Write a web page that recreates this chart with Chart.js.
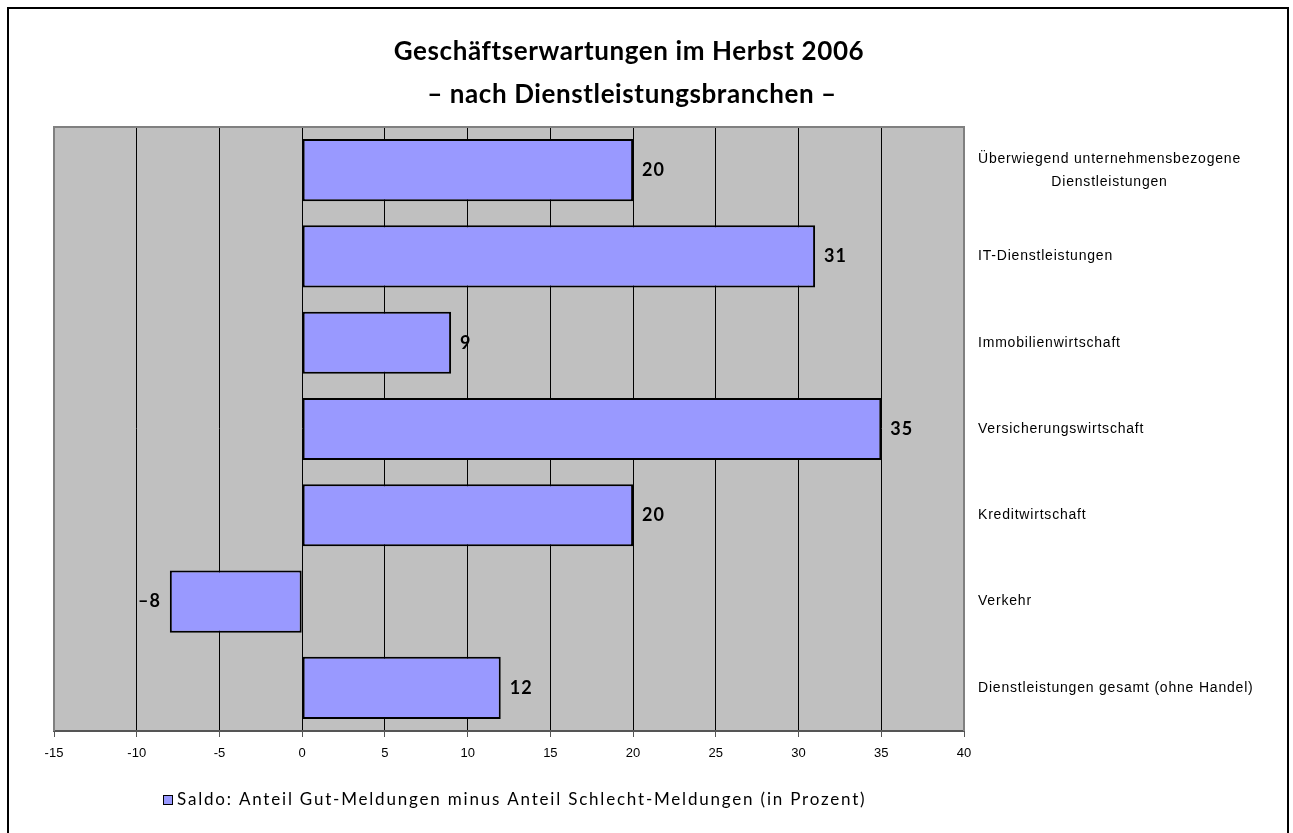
<!DOCTYPE html>
<html>
<head>
<meta charset="utf-8">
<script src="https://cdn.jsdelivr.net/npm/chart.js@4.4.1/dist/chart.umd.min.js"></script>
<style>
  body { margin: 0; background: #fff; }
  #wrap { position: relative; width: 1293px; height: 833px; }
</style>
</head>
<body>
<div id="wrap"><canvas id="canvas_branchen" width="1293" height="833"></canvas></div>
<script>
// Daten
const branchen = [
  ["Überwiegend unternehmensbezogene", "Dienstleistungen"],
  "IT-Dienstleistungen",
  "Immobilienwirtschaft",
  "Versicherungswirtschaft",
  "Kreditwirtschaft",
  "Verkehr",
  "Dienstleistungen gesamt (ohne Handel)"
];
const saldo = [20, 31, 9, 35, 20, -8, 12];
const titel = ["Geschäftserwartungen im Herbst 2006", "– nach Dienstleistungsbranchen –"];
const legende = "Saldo: Anteil Gut-Meldungen minus Anteil Schlecht-Meldungen (in Prozent)";
const xMin = -15, xMax = 40, xStep = 5;

const fonteTitulo = "Lato, 'Open Sans', sans-serif";
const fonteEixo = "'Liberation Sans', Arial, sans-serif";

// fundo cinza + moldura
const fundo = {
  id: "fundo",
  beforeDraw(chart) {
    const c = chart.ctx, a = chart.chartArea;
    c.save();
    c.fillStyle = "#fff";
    c.fillRect(0, 0, chart.width, chart.height);
    c.strokeStyle = "#000";
    c.lineWidth = 2;
    c.beginPath();
    c.moveTo(8, 840); c.lineTo(8, 8); c.lineTo(1288, 8); c.lineTo(1288, 840);
    c.stroke();
    c.fillStyle = "#c0c0c0";
    c.fillRect(a.left, a.top, a.right - a.left, a.bottom - a.top);
    c.restore();
  },
  beforeDatasetsDraw(chart) {
    const c = chart.ctx, a = chart.chartArea;
    c.save();
    c.strokeStyle = "#808080";
    c.lineWidth = 2;
    c.beginPath();
    c.moveTo(a.left, a.bottom); c.lineTo(a.left, a.top); c.lineTo(a.right, a.top); c.lineTo(a.right, a.bottom);
    c.stroke();
    c.restore();
  }
};

// titulo, rotulos, legenda
const textos = {
  id: "textos",
  afterDraw(chart) {
    const c = chart.ctx, a = chart.chartArea;
    const x = chart.scales.x, y = chart.scales.y;
    c.save();
    c.fillStyle = "#000";
    c.textBaseline = "middle";

    // titulo
    c.font = "bold 26px " + fonteTitulo;
    c.letterSpacing = "0.6px";
    c.textAlign = "center";
    c.fillText(titel[0], 629, 52);
    c.fillText(titel[1], 632, 95);

    // valores nas barras
    c.font = "bold 18px " + fonteTitulo;
    c.letterSpacing = "1px";
    saldo.forEach((v, i) => {
      const px = x.getPixelForValue(v), py = y.getPixelForValue(i);
      const txt = v < 0 ? "–" + Math.abs(v) : String(v);
      if (v >= 0) { c.textAlign = "left"; c.fillText(txt, px + 9, py); }
      else { c.textAlign = "right"; c.fillText(txt, px - 9, py); }
    });

    // categorias a direita
    c.font = "14px " + fonteEixo;
    c.letterSpacing = "0.8px";
    const lx = a.right + 14;
    branchen.forEach((lab, i) => {
      const py = y.getPixelForValue(i);
      if (Array.isArray(lab)) {
        const w = Math.max(...lab.map(s => c.measureText(s).width));
        c.textAlign = "center";
        lab.forEach((s, k) => c.fillText(s, lx + w / 2, py + (k - (lab.length - 1) / 2) * 23));
      } else {
        c.textAlign = "left";
        c.fillText(lab, lx, py);
      }
    });

    // legenda
    c.letterSpacing = "0px";
    c.fillStyle = "#9999ff";
    c.fillRect(163, 795, 9, 9);
    c.strokeStyle = "#000";
    c.lineWidth = 1;
    c.strokeRect(163.5, 795.5, 9, 9);
    c.fillStyle = "#000";
    c.font = "17px " + fonteTitulo;
    c.letterSpacing = "1.8px";
    c.textAlign = "left";
    c.fillText(legende, 177, 800);
    c.restore();
  }
};

const ctx = document.getElementById("canvas_branchen").getContext("2d");
window.branchenChart = new Chart(ctx, {
  type: "bar",
  data: {
    labels: branchen,
    datasets: [{
      label: legende,
      data: saldo,
      backgroundColor: "#9999ff",
      borderColor: "#000",
      borderWidth: 2,
      borderSkipped: false,
      barPercentage: 0.72,
      categoryPercentage: 1
    }]
  },
  options: {
    indexAxis: "y",
    responsive: false,
    animation: false,
    layout: { padding: { left: 54, right: 329, top: 127, bottom: 42 } },
    plugins: { legend: { display: false }, title: { display: false }, tooltip: { enabled: false } },
    scales: {
      x: {
        min: xMin, max: xMax,
        afterFit: s => { s.height = 60; },
        ticks: { stepSize: xStep, color: "#000", padding: 9, font: { family: fonteEixo, size: 13 } },
        grid: { color: "#000", lineWidth: 1, tickLength: 6, tickColor: "#555" },
        border: { color: "#555", width: 2 }
      },
      y: { display: false }
    }
  },
  plugins: [fundo, textos]
});
</script>
</body>
</html>
